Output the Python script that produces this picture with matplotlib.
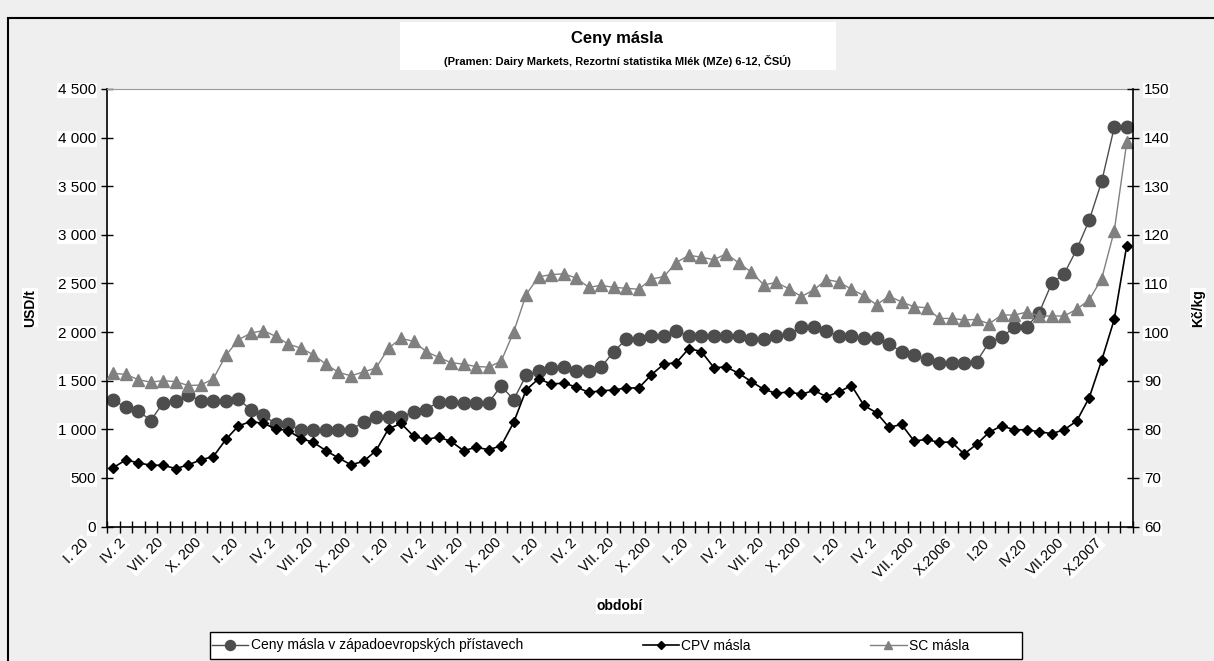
import numpy as np
import matplotlib
matplotlib.use("Agg")
import matplotlib.pyplot as plt
from matplotlib.patches import Rectangle
from matplotlib.ticker import FuncFormatter
import matplotlib.transforms as mtransforms

plt.rcParams['font.family'] = ['Liberation Sans', 'DejaVu Sans']

# ---- data (monthly, I.2001 - X.2007) ----
ceny_pristavy = [1300, 1225, 1190, 1090, 1275, 1295, 1350, 1295, 1295, 1295,
                 1310, 1200, 1150, 1050, 1050, 995, 995, 995, 995, 995,
                 1075, 1125, 1125, 1125, 1175, 1200, 1285, 1285, 1275, 1275,
                 1275, 1445, 1305, 1555, 1600, 1630, 1640, 1600, 1600, 1640,
                 1800, 1925, 1925, 1955, 1955, 2015, 1955, 1955, 1955, 1955,
                 1960, 1925, 1925, 1955, 1975, 2050, 2050, 2015, 1955, 1955,
                 1935, 1935, 1875, 1800, 1760, 1720, 1680, 1680, 1680, 1695,
                 1895, 1945, 2050, 2050, 2200, 2500, 2600, 2850, 3150, 3550,
                 4105, 4105]

cpv_masla = [72.1, 73.7, 73.1, 72.6, 72.6, 71.9, 72.7, 73.7, 74.4, 77.9,
             80.7, 81.6, 81.2, 80.1, 79.7, 78.1, 77.3, 75.6, 74.1, 72.7,
             73.4, 75.6, 80.1, 81.2, 78.6, 77.9, 78.4, 77.5, 75.6, 76.3,
             75.8, 76.6, 81.4, 88.1, 90.4, 89.3, 89.5, 88.7, 87.6, 87.9,
             88.1, 88.5, 88.5, 91.2, 93.4, 93.7, 96.6, 96.0, 92.7, 92.8,
             91.5, 89.8, 88.2, 87.4, 87.7, 87.2, 88.0, 86.7, 87.7, 89.0,
             84.9, 83.4, 80.4, 81.0, 77.6, 77.9, 77.3, 77.4, 74.9, 76.9,
             79.4, 80.7, 79.9, 79.9, 79.5, 79.1, 79.9, 81.7, 86.5, 94.2,
             102.6, 117.8]

sc_masla = [91.5, 91.3, 90.2, 89.7, 90.0, 89.8, 89.0, 89.1, 90.4, 95.2,
            98.4, 99.8, 100.3, 99.1, 97.5, 96.7, 95.3, 93.4, 91.7, 91.0,
            91.8, 92.6, 96.7, 98.7, 98.1, 96.0, 94.8, 93.7, 93.4, 92.9,
            92.8, 94.0, 100.0, 107.7, 111.4, 111.8, 112.0, 111.1, 109.2, 109.6,
            109.2, 109.0, 108.8, 110.9, 111.4, 114.3, 115.8, 115.4, 114.9, 116.1,
            114.2, 112.3, 109.7, 110.2, 108.9, 107.3, 108.7, 110.8, 110.3, 108.8,
            107.5, 105.6, 107.4, 106.2, 105.2, 105.0, 102.8, 102.8, 102.5, 102.6,
            101.7, 103.5, 103.5, 104.1, 103.3, 103.3, 103.3, 104.7, 106.6, 111.0,
            120.8, 139.0]

# tick labels (as shown, truncated in the original chart)
obdobi_labels = ["I. 20", "IV. 2", "VII. 20", "X. 200"] * 5 + \
                ["I. 20", "IV. 2", "VII. 200", "X.2006",
                 "I.20", "IV.20", "VII.200", "X.2007"]
label_step = 3

n = len(ceny_pristavy)
x = np.arange(n)

W, H = 1214, 661
fig = plt.figure(figsize=(W / 100, H / 100), dpi=100, facecolor='#efefef')

# outer chart border
fig.patches.append(Rectangle((8 / W, -0.1), 1.2, 1.1 - 18 / H, transform=fig.transFigure,
                             fill=False, edgecolor='black', linewidth=1.5, zorder=0))
# title box
fig.patches.append(Rectangle((400 / W, 1 - 70 / H), 436 / W, 48 / H, transform=fig.transFigure,
                             facecolor='white', edgecolor='none', zorder=0))
fig.text(617 / W, 1 - 38 / H, "Ceny másla", ha='center', va='center',
         fontsize=12, fontweight='bold')
fig.text(617 / W, 1 - 61 / H,
         "(Pramen: Dairy Markets, Rezortní statistika Mlék (MZe) 6-12, ČSÚ)",
         ha='center', va='center', fontsize=8, fontweight='bold')

ax = fig.add_axes([107 / W, 1 - 526.5 / H, (1133 - 107) / W, (526.5 - 89) / H])
ax.set_facecolor('white')
ax.set_xlim(-0.5, n - 0.5)
ax.set_ylim(0, 4500)
ax.set_yticks(np.arange(0, 4501, 500))
ax.yaxis.set_major_formatter(FuncFormatter(lambda v, p: f"{int(v):,}".replace(",", " ")))
ax.set_xticks(np.arange(-0.5, n, 1))
ax.set_xticklabels([])
ax.tick_params(axis='x', direction='inout', length=8, width=1)
ax.tick_params(axis='y', direction='inout', length=8, width=1, labelsize=11, pad=4)
for s in ['left', 'bottom']:
    ax.spines[s].set_linewidth(1.2)
ax.spines['top'].set_color('#999999')
ax.spines['right'].set_visible(False)

ax2 = ax.twinx()
ax2.set_ylim(60, 150)
ax2.set_yticks(np.arange(60, 151, 10))
ax2.tick_params(axis='y', direction='inout', length=8, width=1, labelsize=11, pad=4)
ax2.spines['right'].set_linewidth(1.2)
for s in ['top', 'left', 'bottom']:
    ax2.spines[s].set_visible(False)

for lbl in ax.get_yticklabels() + ax2.get_yticklabels():
    lbl.set_bbox(dict(facecolor='white', edgecolor='none', pad=0.5))

l1, = ax.plot(x, ceny_pristavy, color='#4d4d4d', lw=1, marker='o', markersize=9,
              markeredgecolor='#4d4d4d', label="Ceny másla v západoevropských přístavech")
l3, = ax2.plot(x, sc_masla, color='#808080', lw=1, marker='^', markersize=8,
               markeredgecolor='#808080', label="SC másla")
l2, = ax2.plot(x, cpv_masla, color='black', lw=1.2, marker='D', markersize=5,
               label="CPV másla")

# category labels
off = mtransforms.ScaledTranslation(-0.22, -0.09, fig.dpi_scale_trans)
trans = mtransforms.blended_transform_factory(ax.transData, ax.transAxes) + off
for i, lab in zip(x[::label_step], obdobi_labels):
    ax.text(i, 0, lab, transform=trans, rotation=45, ha='right', va='top',
            fontsize=10.5, clip_on=False,
            bbox=dict(facecolor='white', edgecolor='none', pad=0.5))

ax.set_ylabel("USD/t", fontsize=10, fontweight='bold',
              bbox=dict(facecolor='white', edgecolor='none', pad=0.5))
ax.yaxis.set_label_coords((37 - 107) / 1026, 0.5)
ax2.set_ylabel("Kč/kg", fontsize=10, fontweight='bold',
               bbox=dict(facecolor='white', edgecolor='none', pad=0.5))
ax2.yaxis.set_label_coords((1191 - 107) / 1026, 0.5)
ax.set_xlabel("období", fontsize=10, fontweight='bold',
              bbox=dict(facecolor='white', edgecolor='none', pad=0.5))
ax.xaxis.set_label_coords(0.5, (526.5 - 606) / 437.5)
ax.xaxis.label.set_va('center')

# legend box + entries
fig.patches.append(Rectangle((210 / W, 1 - 659 / H), 812 / W, 27 / H, transform=fig.transFigure,
                             facecolor='white', edgecolor='black', linewidth=1, zorder=1))
leg = fig.legend(handles=[l1, l2, l3], loc='center left', ncol=3,
                 bbox_to_anchor=(212 / W, 1 - 645.5 / H),
                 fontsize=10, frameon=False, borderpad=0, columnspacing=8.6,
                 handlelength=2.6, handletextpad=0.2, markerscale=0.8,
                 borderaxespad=0)
leg.set_zorder(2)

fig.savefig("out.png", dpi=100, facecolor=fig.get_facecolor())
